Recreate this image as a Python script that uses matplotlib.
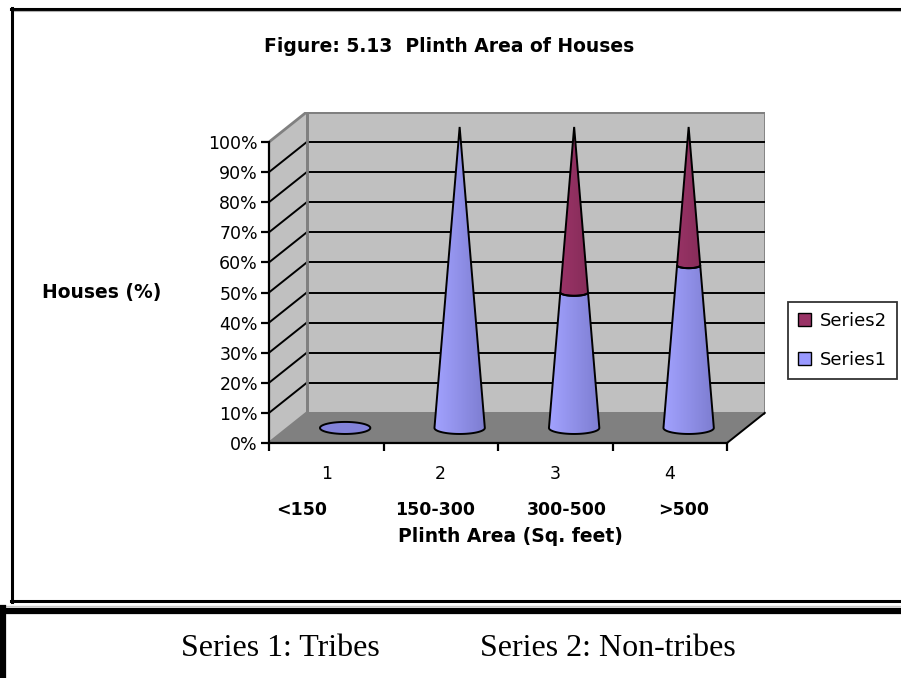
import numpy as np
import matplotlib
matplotlib.use("Agg")
import matplotlib.pyplot as plt
from matplotlib.patches import Polygon, Patch
from matplotlib.lines import Line2D
from matplotlib.colors import to_rgb

# ---------------- data ----------------
categories = ["1", "2", "3", "4"]
range_labels = ["<150", "150-300", "300-500", ">500"]
series1 = [0, 100, 45, 54]   # Tribes (%)
series2 = [0, 0, 55, 46]     # Non-tribes (%)
yticks = list(range(0, 101, 10))

title = "Figure: 5.13  Plinth Area of Houses"
ylabel = "Houses (%)"
xlabel = "Plinth Area (Sq. feet)"
legend_labels = ["Series2", "Series1"]
footnotes = ["Series 1: Tribes", "Series 2: Non-tribes"]

# ---------------- style ----------------
W, H = 901, 678
fig = plt.figure(figsize=(W / 100, H / 100), dpi=100)
fig.patch.set_facecolor("white")

def fx(px):
    return px / W

def fy(py):
    return 1 - py / H

C1 = "#9999FF"
C2 = "#993366"
WALL = "#C0C0C0"
FLOOR = "#808080"
EDGE = "#808080"

DX, DY = 0.33, 10.0        # oblique depth offset (data units)
R, E0 = 0.22, 2.0           # cone base half-width and ellipse half-height

x_left, x_right = 0.5, len(categories) + 0.5
# pixel placement of the plotting box
px_x0, px_x1 = 269, 727
px_y0, px_y100 = 443, 142
sx = (px_x1 - px_x0) / (x_right - x_left)
sy = (px_y0 - px_y100) / 100.0
right_px = px_x1 + DX * sx
top_px = px_y0 - (100 + DY) * sy

ax = fig.add_axes([fx(px_x0), fy(px_y0), fx(right_px - px_x0), (px_y0 - top_px) / H])
ax.set_xlim(x_left, x_right + DX)
ax.set_ylim(0, 100 + DY)
ax.patch.set_visible(False)

# walls and floor
side = Polygon([(x_left, 0), (x_left, 100), (x_left + DX, 100 + DY), (x_left + DX, DY)],
               closed=True, fc=WALL, ec="none", zorder=1)
back = Polygon([(x_left + DX, DY), (x_right + DX, DY), (x_right + DX, 100 + DY), (x_left + DX, 100 + DY)],
               closed=True, fc=WALL, ec=EDGE, lw=2, zorder=1)
floor = Polygon([(x_left, 0), (x_right, 0), (x_right + DX, DY), (x_left + DX, DY)],
                closed=True, fc=FLOOR, ec="none", zorder=1)
for p in (side, back, floor):
    ax.add_patch(p)

for v in yticks:
    col = "black" if 0 < v < 100 else EDGE
    lw = 1.4 if col == "black" else 2
    ax.plot([x_left + DX, x_right + DX], [v + DY, v + DY], color=col, lw=lw, zorder=2)
    ax.plot([x_left, x_left + DX], [v, v + DY], color=col, lw=lw, zorder=2)
ax.plot([x_left + DX, x_left + DX], [DY, 100 + DY], color=EDGE, lw=2, zorder=2)
ax.plot([x_right, x_right + DX], [0, DY], color="black", lw=1.4, zorder=2, clip_on=False)

# ---------------- cones ----------------
def shade(c, f):
    r = np.array(to_rgb(c))
    return np.clip(r * f, 0, 1)

def gradient_fill(poly, color, x0, x1, y0, y1):
    ax.add_patch(poly)
    n = 64
    t = np.linspace(0, 1, n)
    light = shade(color, 1.06)
    dark = shade(color, 0.82)
    g = (1 - t)[:, None] * light[None, :] + t[:, None] * dark[None, :]
    img = np.repeat(g[None, :, :], 2, axis=0)
    im = ax.imshow(img, extent=[x0, x1, y0, y1], aspect="auto", origin="lower",
                   interpolation="bilinear", zorder=3)
    im.set_clip_path(poly)

def front_arc(cx, yc, r, e, left_to_right=True, n=40):
    th = np.linspace(np.pi, 2 * np.pi, n)
    pts = np.column_stack([cx + r * np.cos(th), yc + e * np.sin(th)])
    return pts if left_to_right else pts[::-1]

for i, (a, b) in enumerate(zip(series1, series2)):
    cx = i + 1 + DX / 2
    yb = DY / 2
    total = a + b
    if total == 0:
        th = np.linspace(0, 2 * np.pi, 60)
        pts = np.column_stack([cx + R * np.cos(th), yb + E0 * np.sin(th)])
        disk = Polygon(pts, closed=True, fc=shade(C1, 0.85), ec="black", lw=1.4, zorder=4)
        ax.add_patch(disk)
        continue
    h1 = 100.0 * a / total
    bounds = [(0.0, h1, C1), (h1, 100.0, C2)]
    for lo, hi, col in bounds:
        if hi - lo <= 0:
            continue
        rl = R * (1 - lo / 100)
        el = E0 * (1 - lo / 100)
        rh = R * (1 - hi / 100)
        eh = E0 * (1 - hi / 100)
        top = front_arc(cx, yb + hi, rh, eh, True)
        bot = front_arc(cx, yb + lo, rl, el, False)
        pts = np.vstack([top, bot])
        poly = Polygon(pts, closed=True, fc="none", ec="none", zorder=3)
        gradient_fill(poly, col, cx - R, cx + R, yb + lo - E0, yb + hi)
        outline = Polygon(pts, closed=True, fc="none", ec="black", lw=1.4, zorder=5)
        ax.add_patch(outline)

ax.set_xlim(x_left, x_right + DX)
ax.set_ylim(0, 100 + DY)

# ---------------- axes ----------------
for s in ("top", "right"):
    ax.spines[s].set_visible(False)
ax.spines["left"].set_bounds(0, 100)
ax.spines["bottom"].set_bounds(x_left, x_right)
for s in ("left", "bottom"):
    ax.spines[s].set_linewidth(1.6)
    ax.spines[s].set_zorder(6)

ax.set_yticks(yticks)
ax.set_yticklabels([f"{v}%" for v in yticks], fontsize=12.5)
ax.set_xticks(np.arange(x_left, x_right + 0.01, 1.0))
ax.set_xticklabels([])
ax.set_xticks(np.arange(1, len(categories) + 1), minor=True)
ax.set_xticklabels(categories, minor=True, fontsize=12.5)
ax.tick_params(axis="y", direction="out", length=6, width=1.6, pad=2)
ax.tick_params(axis="x", which="major", direction="out", length=6, width=1.6)
ax.tick_params(axis="x", which="minor", length=0, pad=16)

# category range labels
range_px = [302, 435, 567, 684]
for lab, px in zip(range_labels, range_px):
    fig.text(fx(px), fy(510), lab, ha="center", va="center", fontsize=12.5, fontweight="bold")

fig.text(fx(510), fy(537), xlabel, ha="center", va="center", fontsize=13.5, fontweight="bold")
fig.text(fx(102), fy(292), ylabel, ha="center", va="center", fontsize=13.5, fontweight="bold")
fig.text(fx(449), fy(47), title, ha="center", va="center", fontsize=13.5, fontweight="bold")

# legend
handles = [Patch(fc=C2, ec="black", label=legend_labels[0]),
           Patch(fc=C1, ec="black", label=legend_labels[1])]
leg = fig.legend(handles=handles, loc="upper left", bbox_to_anchor=(fx(788), fy(302)),
                 fontsize=13, frameon=True, fancybox=False, edgecolor="black",
                 handlelength=0.7, handleheight=0.7, handletextpad=0.5,
                 borderpad=0.55, labelspacing=1.15, borderaxespad=0)
leg.get_frame().set_linewidth(1.3)

# frames
def hline(y, x0, x1, lw, col="black"):
    fig.add_artist(Line2D([fx(x0), fx(x1)], [fy(y), fy(y)], color=col, lw=lw))

def vline(x, y0, y1, lw, col="black"):
    fig.add_artist(Line2D([fx(x), fx(x)], [fy(y0), fy(y1)], color=col, lw=lw))

hline(9, 11, W, 2.2)
hline(11, 13, W, 0.8, "#B0B0B0")
vline(12, 8, 602, 2.2)
hline(601, 11, W, 2.2)
hline(606, 0, W, 1.0, "#C8C8C8")
hline(611, 0, W, 4.5)
vline(2.5, 608, H, 4.5)

# footnote
fig.text(fx(181), fy(648), footnotes[0], ha="left", va="center", fontsize=23,
         family="Liberation Serif")
fig.text(fx(480), fy(648), footnotes[1], ha="left", va="center", fontsize=23,
         family="Liberation Serif")

fig.savefig("out.png", dpi=100)
